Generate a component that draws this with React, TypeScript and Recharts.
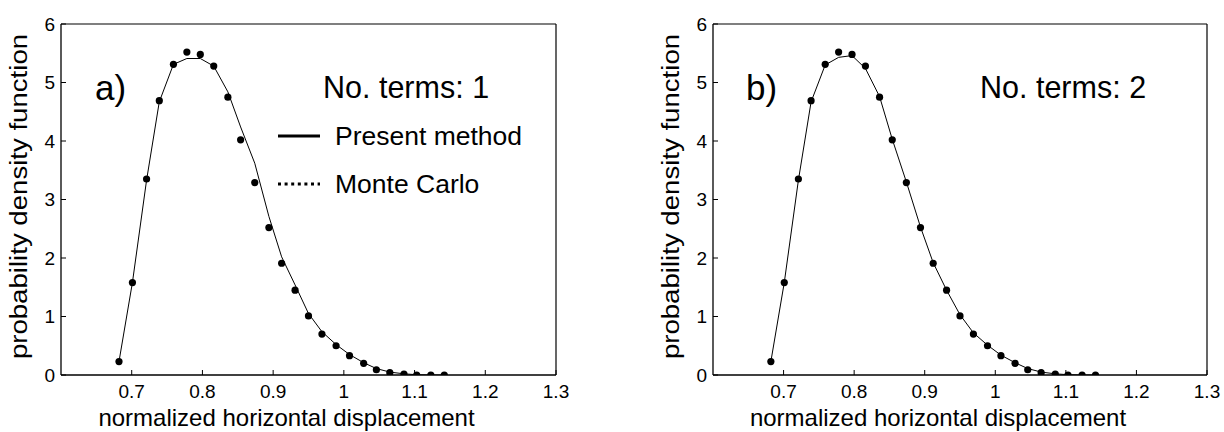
import React from "react";
import { ComposedChart, Legend, Line, XAxis, YAxis } from "recharts";

const FONT = '"Liberation Sans", Arial, Helvetica, sans-serif';
// the reference figure is a bit taller than its fonts, so the y title is stretched along its length
const STRETCH = 1.15;

const X_VALUES = [
  0.682, 0.701, 0.721, 0.739, 0.759, 0.778, 0.797, 0.816, 0.836, 0.854, 0.874, 0.894, 0.912,
  0.931, 0.95, 0.969, 0.989, 1.008, 1.028, 1.046, 1.065, 1.085, 1.103, 1.123, 1.142,
];
const MONTE_CARLO = [
  0.23, 1.58, 3.35, 4.69, 5.31, 5.52, 5.48, 5.28, 4.75, 4.02, 3.29, 2.52, 1.91, 1.45, 1.01, 0.7,
  0.5, 0.33, 0.2, 0.09, 0.04, 0.017, 0, 0, 0,
];
const PRESENT_ONE_TERM = [
  0.23, 1.58, 3.33, 4.67, 5.31, 5.41, 5.41, 5.28, 4.84, 4.24, 3.62, 2.71, 2.02, 1.54, 1.05, 0.74,
  0.52, 0.35, 0.21, 0.11, 0.05, 0.02, 0.005, 0, 0,
];
const PRESENT_TWO_TERMS = [
  0.23, 1.58, 3.33, 4.67, 5.3, 5.43, 5.46, 5.24, 4.76, 4.03, 3.3, 2.53, 1.92, 1.45, 1.03, 0.72,
  0.51, 0.34, 0.21, 0.11, 0.05, 0.02, 0.005, 0, 0,
];
const X_TICKS = [0.7, 0.8, 0.9, 1, 1.1, 1.2, 1.3];
const Y_TICKS = [0, 1, 2, 3, 4, 5, 6];
const LEGEND_ORDER = ["Present method", "Monte Carlo"];

function buildRows(curve: number[]) {
  return X_VALUES.map((x, i) => ({ x, curve: curve[i], mc: MONTE_CARLO[i] }));
}

function XTick({ x, y, payload }: any) {
  return (
    <text x={x} y={y + 11} textAnchor="middle" fontSize={19} fontFamily={FONT} fill="#000">
      {String(payload.value)}
    </text>
  );
}

function YTick({ x, y, payload }: any) {
  return (
    <text x={x} y={y + 6.8} textAnchor="end" fontSize={19} fontFamily={FONT} fill="#000">
      {String(payload.value)}
    </text>
  );
}

function xTitle(props: any) {
  const vb = props.viewBox || {};
  const x = vb.x + vb.width / 2 - 22;
  const y = vb.y + 51;
  return (
    <text x={x} y={y} textAnchor="middle" fontSize={24} fontFamily={FONT} fill="#000">
      normalized horizontal displacement
    </text>
  );
}

function yTitle(props: any) {
  const vb = props.viewBox || {};
  const x = vb.x + vb.width - 34;
  const y = vb.y + vb.height / 2 - 3;
  return (
    <text
      x={0}
      y={0}
      textAnchor="middle"
      fontSize={24}
      fontFamily={FONT}
      fill="#000"
      transform={`translate(${x} ${y}) scale(1 ${STRETCH}) rotate(-90)`}
    >
      probability density function
    </text>
  );
}

function LegendContent({ payload }: any) {
  const items = (payload || [])
    .filter((p: any) => LEGEND_ORDER.includes(p.value))
    .sort((a: any, b: any) => LEGEND_ORDER.indexOf(a.value) - LEGEND_ORDER.indexOf(b.value));
  return (
    <div style={{ fontFamily: FONT, fontSize: 26.5, color: "#000" }}>
      {items.map((entry: any) => {
        const solid = entry.dataKey === "curve";
        return (
          <div key={entry.value} style={{ display: "flex", alignItems: "center", height: 48 }}>
            <svg width={44} height={6} style={{ display: "block" }}>
              <line
                x1={0}
                x2={42}
                y1={3}
                y2={3}
                stroke="#000"
                strokeWidth={3}
                strokeDasharray={solid ? undefined : "3 3.6"}
              />
            </svg>
            <span style={{ marginLeft: 13, lineHeight: 1 }}>{entry.value}</span>
          </div>
        );
      })}
    </div>
  );
}

type PanelProps = {
  curve: number[];
  yAxisWidth: number;
  marginRight: number;
  tag: string;
  tagX: number;
  terms: string;
  termsX: number;
  showLegend?: boolean;
};

function Panel({ curve, yAxisWidth, marginRight, tag, tagX, terms, termsX, showLegend }: PanelProps) {
  const rows = buildRows(curve);
  return (
    <ComposedChart width={612} height={432} data={rows} margin={{ top: 23, right: marginRight, left: 0, bottom: 0 }}>
      <XAxis
        dataKey="x"
        type="number"
        domain={[0.6, 1.3]}
        allowDataOverflow
        ticks={X_TICKS}
        interval={0}
        height={57}
        tickSize={-5}
        tickMargin={17}
        axisLine={{ stroke: "#000", strokeWidth: 1.6 }}
        tickLine={{ stroke: "#000" }}
        tick={<XTick />}
        label={{ content: xTitle }}
      />
      <XAxis
        xAxisId="top"
        dataKey="x"
        orientation="top"
        type="number"
        domain={[0.6, 1.3]}
        allowDataOverflow
        ticks={X_TICKS}
        interval={0}
        height={1}
        tickSize={-5}
        axisLine={{ stroke: "#000", strokeWidth: 1.2 }}
        tickLine={{ stroke: "#000" }}
        tick={false}
      />
      <YAxis
        type="number"
        domain={[0, 6]}
        allowDataOverflow
        ticks={Y_TICKS}
        interval={0}
        width={yAxisWidth}
        tickSize={-5}
        tickMargin={11}
        axisLine={{ stroke: "#000", strokeWidth: 1.3 }}
        tickLine={{ stroke: "#000" }}
        tick={<YTick />}
        label={{ content: yTitle }}
      />
      <YAxis
        yAxisId="right"
        orientation="right"
        type="number"
        domain={[0, 6]}
        allowDataOverflow
        ticks={Y_TICKS}
        interval={0}
        width={1}
        tickSize={-5}
        axisLine={{ stroke: "#000", strokeWidth: 1.2 }}
        tickLine={{ stroke: "#000" }}
        tick={false}
      />
      {showLegend && (
        <Legend
          layout="vertical"
          align="center"
          verticalAlign="middle"
          content={<LegendContent />}
          wrapperStyle={{ left: 278, top: 112, width: 280 }}
        />
      )}
      <Line
        dataKey="curve"
        name="Present method"
        type="linear"
        stroke="#000"
        strokeWidth={1}
        dot={false}
        activeDot={false}
        isAnimationActive={false}
      />
      <Line
        dataKey="mc"
        name="Monte Carlo"
        type="linear"
        stroke="none"
        dot={{ r: 3.6, fill: "#000", stroke: "#000", strokeWidth: 0 }}
        activeDot={false}
        isAnimationActive={false}
      />
      {/* invisible series so the top and right frame axes get drawn */}
      <Line
        xAxisId="top"
        yAxisId="right"
        dataKey="mc"
        name="frame"
        stroke="none"
        dot={false}
        activeDot={false}
        legendType="none"
        isAnimationActive={false}
      />
      <text x={tagX} y={100} fontSize={35} fontFamily={FONT} fill="#000">
        {tag}
      </text>
      <text x={termsX} y={98} fontSize={30.5} fontFamily={FONT} fill="#000">
        {terms}
      </text>
    </ComposedChart>
  );
}

export default function App() {
  return (
    <div style={{ position: "absolute", left: 0, top: 0, width: 1224, height: 432, background: "#fff" }}>
      <div style={{ position: "absolute", left: 0, top: 0 }}>
        <Panel
          curve={PRESENT_ONE_TERM}
          yAxisWidth={61}
          marginRight={55}
          tag="a)"
          tagX={95}
          terms="No. terms: 1"
          termsX={323}
          showLegend
        />
      </div>
      <div style={{ position: "absolute", left: 612, top: 0 }}>
        <Panel
          curve={PRESENT_TWO_TERMS}
          yAxisWidth={101}
          marginRight={16}
          tag="b)"
          tagX={134}
          terms="No. terms: 2"
          termsX={368}
        />
      </div>
    </div>
  );
}
